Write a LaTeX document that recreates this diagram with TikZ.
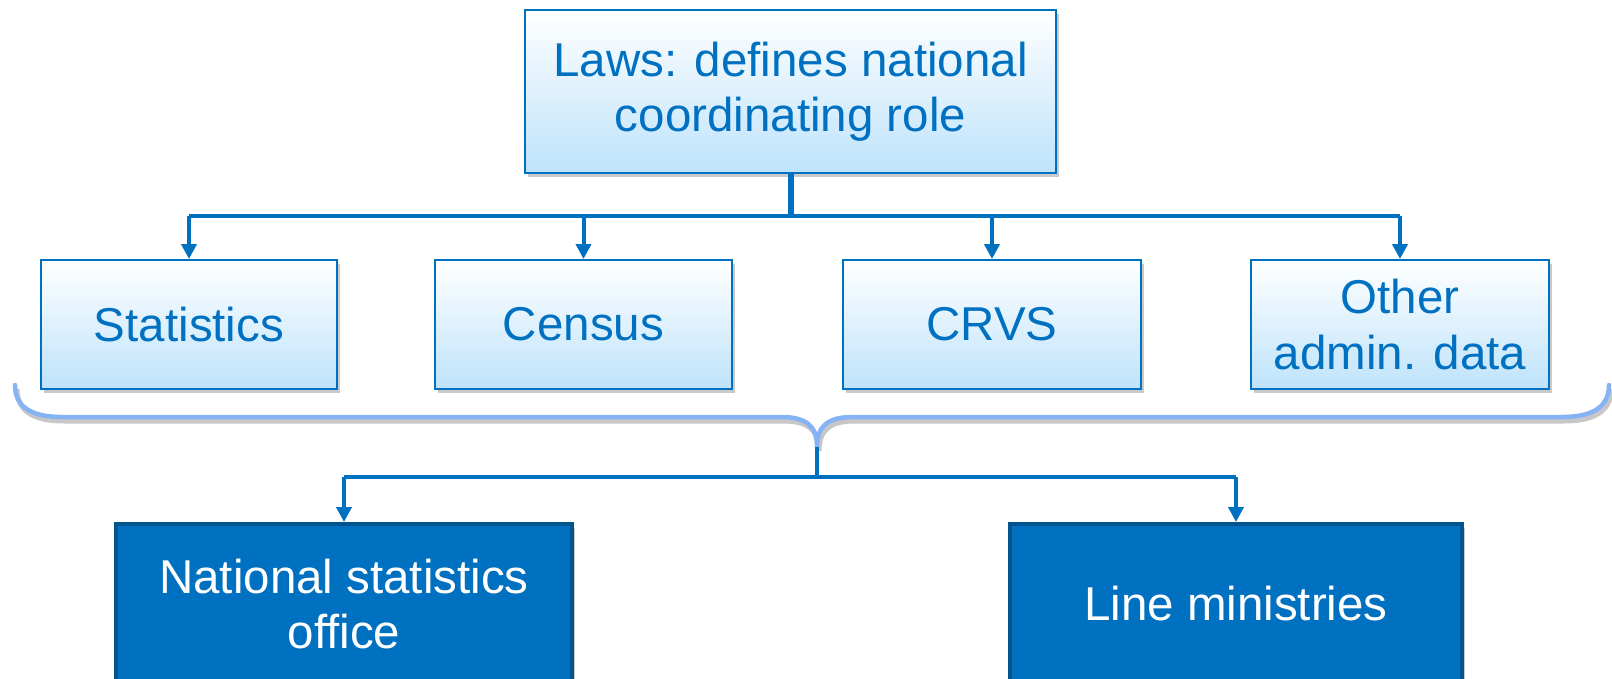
\documentclass[tikz,border=0pt]{standalone}
\usepackage{fontspec}
\setmainfont{Liberation Sans}
\usetikzlibrary{arrows.meta,shadows}
\definecolor{blu}{HTML}{0070C0}
\definecolor{bludark}{HTML}{00558F}
\definecolor{bluelight}{HTML}{BEE3FB}
\definecolor{bracec}{HTML}{86B3F5}
\tikzset{
  lightbox/.style={draw=blu, line width=2pt, top color=white, bottom color=bluelight,
    text=blu, align=center, inner sep=0pt,
    font=\fontsize{47.5}{55.5}\selectfont,
    drop shadow={shadow xshift=3pt, shadow yshift=-4pt, opacity=0.35, fill=black!60}},
  darkbox/.style={draw=bludark, line width=4pt, fill=blu, text=white, align=center, inner sep=0pt,
    font=\fontsize{47.5}{55.5}\selectfont,
    drop shadow={shadow xshift=3pt, shadow yshift=-4pt, opacity=0.35, fill=black!60}},
  stem/.style={draw=blu, line width=6pt},
  bar/.style={draw=blu, line width=4.5pt},
  arr/.style={draw=blu, line width=4pt, -{Triangle[width=15pt,length=15pt]}},
  bracestyle/.style={draw=bracec, line width=4.5pt, line cap=round,
    preaction={draw=black, opacity=0.22, line width=5pt, transform canvas={shift={(2pt,-4pt)}}}},
}
\begin{document}
\begin{tikzpicture}[x=1pt,y=-1pt]
\useasboundingbox (0,0) rectangle (1612,678);
\clip (0,0) rectangle (1612,678);

\node[lightbox, minimum width=531pt, minimum height=163pt] (laws) at (790.5,91.5) {Laws: defines national\\coordinating role};

\node[lightbox, minimum width=296pt, minimum height=129pt] (stat) at (189,324.5) {Statistics};
\node[lightbox, minimum width=297pt, minimum height=129pt] (cens) at (583.5,324.5) {Census};
\node[lightbox, minimum width=298pt, minimum height=129pt] (crvs) at (992,324.5) {CRVS};
\node[lightbox, minimum width=298pt, minimum height=129pt] (other) at (1400,324.5) {Other\\admin. data};

\node[darkbox, minimum width=456pt, minimum height=160pt] (nso) at (344,604) {National statistics\\office};
\node[darkbox, minimum width=452pt, minimum height=160pt] (line) at (1236,604) {Line ministries};

% top tree
\coordinate (j1) at (790.5,216);
\draw[stem] (laws.south) -- (j1);
\draw[bar] (stat.north |- j1) -- (other.north |- j1);
\draw[arr] (stat.north |- j1) -- (stat.north);
\draw[arr] (cens.north |- j1) -- (cens.north);
\draw[arr] (crvs.north |- j1) -- (crvs.north);
\draw[arr] (other.north |- j1) -- (other.north);

% brace
\coordinate (btip) at (817,447);
\draw[bracestyle]
  (15,385) .. controls (15,408) and (33,417) .. (62,417)
  -- (781,417) .. controls (805,417) and (817,425) .. (btip)
  .. controls (817,425) and (829,417) .. (853,417)
  -- (1562,417) .. controls (1591,417) and (1609,408) .. (1609,385);

% bottom tree
\coordinate (j2) at (817,477);
\draw[draw=blu, line width=4pt] (btip) -- (j2);
\draw[bar] (nso.north |- j2) -- (line.north |- j2);
\draw[arr] (nso.north |- j2) -- (nso.north);
\draw[arr] (line.north |- j2) -- (line.north);
\end{tikzpicture}
\end{document}
